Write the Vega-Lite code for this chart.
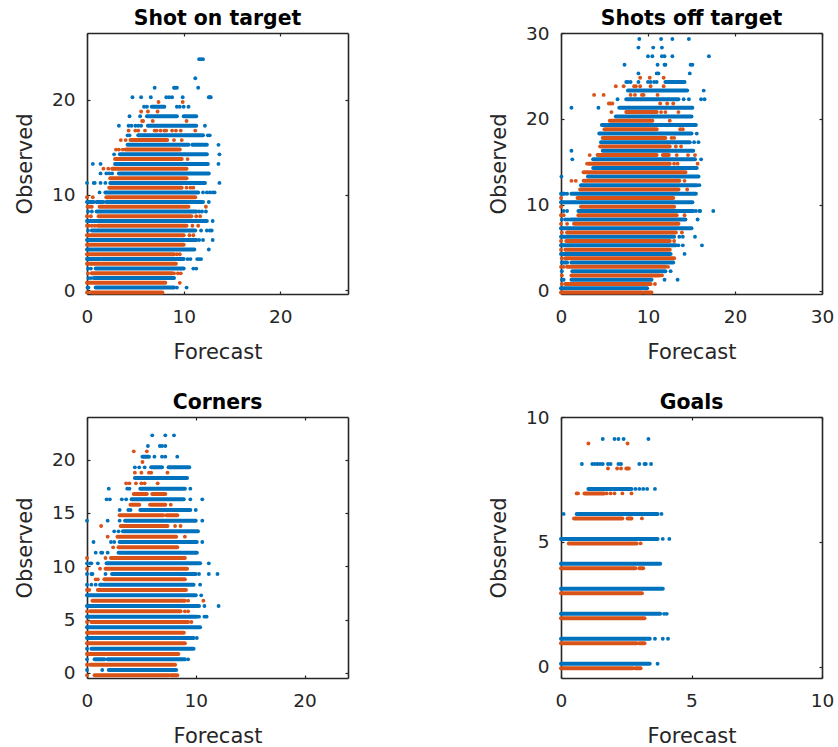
{"$schema":"https://vega.github.io/schema/vega-lite/v6.json","background":"white","padding":{"left":14,"top":8,"right":16,"bottom":0},"bounds":"flush","columns":2,"spacing":{"row":123,"column":213},
"config":{"view":{"stroke":null},"font":"DejaVu Sans","title":{"fontSize":20.4,"fontWeight":"bold","color":"#000000","frame":"group","font":"DejaVu Sans"},"axis":{"grid":false,"labelFont":"DejaVu Sans","titleFont":"DejaVu Sans","labelFontSize":18.5,"titleFontSize":21,"titleFontWeight":"normal","labelColor":"#262626","titleColor":"#262626","domainColor":"#262626","tickColor":"#262626","domainWidth":1.6,"tickWidth":1.2,"tickSize":-3,"labelFlush":false,"labelOverlap":false},"axisX":{"labelPadding":16,"titlePadding":16},"axisY":{"labelPadding":15,"titlePadding":16}},
"datasets":{
"p1":[
{"s":"b","o":0.25,"x":0.9,"e":9},{"s":"b","o":0.25,"x":0.05},{"s":"b","o":0.25,"x":0.15},{"s":"b","o":0.25,"x":9.3},{"s":"b","o":0.25,"x":10.3},
{"s":"b","o":1.25,"x":0.7,"e":9},{"s":"b","o":1.25,"x":0.15},{"s":"b","o":1.25,"x":0.4},
{"s":"b","o":2.25,"x":0.9,"e":10},{"s":"b","o":2.25,"x":0.1},{"s":"b","o":2.25,"x":0.4},{"s":"b","o":2.25,"x":11},{"s":"b","o":2.25,"x":11.3},
{"s":"b","o":3.25,"x":0,"e":1.4},{"s":"b","o":3.25,"x":1.6,"e":10},{"s":"b","o":3.25,"x":10.4},{"s":"b","o":3.25,"x":10.7},{"s":"b","o":3.25,"x":11.4},{"s":"b","o":3.25,"x":11.6},{"s":"b","o":3.25,"x":11.8},
{"s":"b","o":4.25,"x":0,"e":11.1},{"s":"b","o":4.25,"x":12.6},
{"s":"b","o":5.25,"x":0,"e":11.3},{"s":"b","o":5.25,"x":11.6},{"s":"b","o":5.25,"x":12},{"s":"b","o":5.25,"x":13},
{"s":"b","o":6.25,"x":0.5,"e":11.2},{"s":"b","o":6.25,"x":0.1},{"s":"b","o":6.25,"x":11.8},{"s":"b","o":6.25,"x":12.4},{"s":"b","o":6.25,"x":12.7},{"s":"b","o":6.25,"x":12.9},
{"s":"b","o":7.25,"x":0,"e":12.4},{"s":"b","o":7.25,"x":13},
{"s":"b","o":8.25,"x":1,"e":11.3},{"s":"b","o":8.25,"x":0.1},{"s":"b","o":8.25,"x":0.5},{"s":"b","o":8.25,"x":11.6},{"s":"b","o":8.25,"x":11.9},{"s":"b","o":8.25,"x":12.3},
{"s":"b","o":9.25,"x":0,"e":0.7},{"s":"b","o":9.25,"x":1,"e":1.7},{"s":"b","o":9.25,"x":2,"e":12},{"s":"b","o":9.25,"x":12.6},
{"s":"b","o":10.25,"x":1.9,"e":11.5},{"s":"b","o":10.25,"x":1.3},{"s":"b","o":10.25,"x":12},{"s":"b","o":10.25,"x":12.4},{"s":"b","o":10.25,"x":12.7},{"s":"b","o":10.25,"x":13},{"s":"b","o":10.25,"x":13.2},
{"s":"b","o":11.25,"x":2.4,"e":12.2},{"s":"b","o":11.25,"x":0},{"s":"b","o":11.25,"x":0.7},{"s":"b","o":11.25,"x":0.8},{"s":"b","o":11.25,"x":1.4},{"s":"b","o":11.25,"x":1.9},{"s":"b","o":11.25,"x":13.7},
{"s":"b","o":12.25,"x":3.3,"e":12.6},{"s":"b","o":12.25,"x":1.4},{"s":"b","o":12.25,"x":2},{"s":"b","o":12.25,"x":2.3},{"s":"b","o":12.25,"x":2.6},
{"s":"b","o":13.25,"x":2.9,"e":12.5},{"s":"b","o":13.25,"x":0.6},{"s":"b","o":13.25,"x":1.4},{"s":"b","o":13.25,"x":13.6},
{"s":"b","o":14.25,"x":3.4,"e":12.4},{"s":"b","o":14.25,"x":2.8},{"s":"b","o":14.25,"x":13.7},
{"s":"b","o":15.25,"x":4.2,"e":10.5},{"s":"b","o":15.25,"x":10.9,"e":12.4},{"s":"b","o":15.25,"x":13.6},
{"s":"b","o":16.25,"x":5.3,"e":12},{"s":"b","o":16.25,"x":4.2},{"s":"b","o":16.25,"x":4.4},{"s":"b","o":16.25,"x":12.5},{"s":"b","o":16.25,"x":12.7},
{"s":"b","o":17.25,"x":6.3,"e":11.3},{"s":"b","o":17.25,"x":3.3},{"s":"b","o":17.25,"x":4.3},{"s":"b","o":17.25,"x":4.6},{"s":"b","o":17.25,"x":5},{"s":"b","o":17.25,"x":5.3},{"s":"b","o":17.25,"x":5.6},{"s":"b","o":17.25,"x":12.2},
{"s":"b","o":18.25,"x":6.2,"e":9.3},{"s":"b","o":18.25,"x":10,"e":11.3},{"s":"b","o":18.25,"x":4.4},{"s":"b","o":18.25,"x":5.5},
{"s":"b","o":19.25,"x":6.7,"e":8},{"s":"b","o":19.25,"x":5.9},{"s":"b","o":19.25,"x":6.2},{"s":"b","o":19.25,"x":9.3},{"s":"b","o":19.25,"x":9.6},{"s":"b","o":19.25,"x":10},{"s":"b","o":19.25,"x":10.5},
{"s":"b","o":20.25,"x":4.7},{"s":"b","o":20.25,"x":5.6},{"s":"b","o":20.25,"x":6.6},{"s":"b","o":20.25,"x":8.2},{"s":"b","o":20.25,"x":8.5},{"s":"b","o":20.25,"x":8.8},{"s":"b","o":20.25,"x":9.9},{"s":"b","o":20.25,"x":12.6},{"s":"b","o":20.25,"x":12.7},{"s":"b","o":20.25,"x":12.8},
{"s":"b","o":21.25,"x":7},{"s":"b","o":21.25,"x":9},{"s":"b","o":21.25,"x":9.1},{"s":"b","o":21.25,"x":9.3},{"s":"b","o":21.25,"x":11.5},
{"s":"b","o":22.25,"x":11.2},
{"s":"b","o":24.25,"x":11.6},{"s":"b","o":24.25,"x":11.8},{"s":"b","o":24.25,"x":12},
{"s":"r","o":-0.25,"x":0.5,"e":7.8},{"s":"r","o":-0.25,"x":0},{"s":"r","o":-0.25,"x":0.1},
{"s":"r","o":0.75,"x":0,"e":8.1},{"s":"r","o":0.75,"x":9.6},
{"s":"r","o":1.75,"x":0.5,"e":8.8},{"s":"r","o":1.75,"x":0.1},{"s":"r","o":1.75,"x":9},{"s":"r","o":1.75,"x":9.4},{"s":"r","o":1.75,"x":9.7},
{"s":"r","o":2.75,"x":0,"e":9.2},
{"s":"r","o":3.75,"x":0,"e":9},{"s":"r","o":3.75,"x":9.3},{"s":"r","o":3.75,"x":9.6},
{"s":"r","o":4.75,"x":0,"e":10},
{"s":"r","o":5.75,"x":0,"e":10},{"s":"r","o":5.75,"x":10.6},{"s":"r","o":5.75,"x":11},
{"s":"r","o":6.75,"x":1.1,"e":10.3},{"s":"r","o":6.75,"x":0},{"s":"r","o":6.75,"x":0.2},{"s":"r","o":6.75,"x":0.5},{"s":"r","o":6.75,"x":0.8},{"s":"r","o":6.75,"x":10.9},{"s":"r","o":6.75,"x":11.5},
{"s":"r","o":7.75,"x":1.2,"e":10.8},{"s":"r","o":7.75,"x":0},{"s":"r","o":7.75,"x":0.4},{"s":"r","o":7.75,"x":11.3},{"s":"r","o":7.75,"x":11.7},
{"s":"r","o":8.75,"x":1.3,"e":10.5},{"s":"r","o":8.75,"x":0.05},{"s":"r","o":8.75,"x":0.3},{"s":"r","o":8.75,"x":0.5},{"s":"r","o":8.75,"x":12.3},
{"s":"r","o":9.75,"x":2,"e":11.2},{"s":"r","o":9.75,"x":0},{"s":"r","o":9.75,"x":0.6},
{"s":"r","o":10.75,"x":2.3,"e":9.8},{"s":"r","o":10.75,"x":10.3},{"s":"r","o":10.75,"x":10.7},{"s":"r","o":10.75,"x":11},
{"s":"r","o":11.75,"x":2.4,"e":10.3},
{"s":"r","o":12.75,"x":2.6,"e":10.3},{"s":"r","o":12.75,"x":1.7},{"s":"r","o":12.75,"x":2.2},
{"s":"r","o":13.75,"x":2.9,"e":9.8},{"s":"r","o":13.75,"x":10.4},
{"s":"r","o":14.75,"x":4,"e":9.6},{"s":"r","o":14.75,"x":3},{"s":"r","o":14.75,"x":3.3},{"s":"r","o":14.75,"x":3.7},
{"s":"r","o":15.75,"x":4.5,"e":8.3},{"s":"r","o":15.75,"x":3.5},{"s":"r","o":15.75,"x":4},{"s":"r","o":15.75,"x":9},{"s":"r","o":15.75,"x":9.8},
{"s":"r","o":16.75,"x":4.3},{"s":"r","o":16.75,"x":5},{"s":"r","o":16.75,"x":5.3},{"s":"r","o":16.75,"x":6},{"s":"r","o":16.75,"x":7},{"s":"r","o":16.75,"x":7.2},{"s":"r","o":16.75,"x":7.6},{"s":"r","o":16.75,"x":8},{"s":"r","o":16.75,"x":8.2},{"s":"r","o":16.75,"x":8.8},{"s":"r","o":16.75,"x":9.2},{"s":"r","o":16.75,"x":9.7},{"s":"r","o":16.75,"x":11.2},
{"s":"r","o":17.75,"x":5.7},{"s":"r","o":17.75,"x":5.8},{"s":"r","o":17.75,"x":6.8},{"s":"r","o":17.75,"x":10.3},
{"s":"r","o":18.75,"x":5.6},{"s":"r","o":18.75,"x":6.3},{"s":"r","o":18.75,"x":7.3},
{"s":"r","o":19.75,"x":7.4},{"s":"r","o":19.75,"x":9.9}
],
"p2":[
{"s":"b","o":0.3,"x":0,"e":9.9},
{"s":"b","o":1.3,"x":1.2,"e":10.4},{"s":"b","o":1.3,"x":0.1},{"s":"b","o":1.3,"x":0.3},{"s":"b","o":1.3,"x":11.9},{"s":"b","o":1.3,"x":13.4},
{"s":"b","o":2.3,"x":1.3,"e":12},{"s":"b","o":2.3,"x":0.1},{"s":"b","o":2.3,"x":12.6},
{"s":"b","o":3.3,"x":0.1,"e":0.7},{"s":"b","o":3.3,"x":1.2,"e":12.9},
{"s":"b","o":4.3,"x":0,"e":12.6},{"s":"b","o":4.3,"x":14.2},
{"s":"b","o":5.3,"x":0,"e":13.2},{"s":"b","o":5.3,"x":13.5},{"s":"b","o":5.3,"x":14},{"s":"b","o":5.3,"x":16.2},
{"s":"b","o":6.3,"x":0,"e":13},{"s":"b","o":6.3,"x":13.6},{"s":"b","o":6.3,"x":14},{"s":"b","o":6.3,"x":15.4},
{"s":"b","o":7.3,"x":0,"e":15},
{"s":"b","o":8.3,"x":1.3,"e":14.3},{"s":"b","o":8.3,"x":0.1},{"s":"b","o":8.3,"x":0.5},{"s":"b","o":8.3,"x":0.8},{"s":"b","o":8.3,"x":1.1},{"s":"b","o":8.3,"x":15.7},
{"s":"b","o":9.3,"x":2,"e":15.2},{"s":"b","o":9.3,"x":0.3},{"s":"b","o":9.3,"x":0.7},{"s":"b","o":9.3,"x":15.5},{"s":"b","o":9.3,"x":15.9},{"s":"b","o":9.3,"x":16},{"s":"b","o":9.3,"x":17.5},
{"s":"b","o":10.3,"x":0,"e":1.5},{"s":"b","o":10.3,"x":1.6,"e":15.1},
{"s":"b","o":11.3,"x":0,"e":0.4},{"s":"b","o":11.3,"x":1.2,"e":15.5},{"s":"b","o":11.3,"x":0.7},
{"s":"b","o":12.3,"x":2.3,"e":15.6},{"s":"b","o":12.3,"x":15.9},
{"s":"b","o":13.3,"x":3.1,"e":15.8},{"s":"b","o":13.3,"x":0.05},
{"s":"b","o":14.3,"x":3.7,"e":15.6},
{"s":"b","o":15.3,"x":3.7,"e":15.4},{"s":"b","o":15.3,"x":1.3},{"s":"b","o":15.3,"x":16.1},
{"s":"b","o":16.3,"x":4.8,"e":15.2},{"s":"b","o":16.3,"x":1.2},
{"s":"b","o":17.3,"x":4.6,"e":14.8},{"s":"b","o":17.3,"x":15.3},{"s":"b","o":17.3,"x":15.8},
{"s":"b","o":18.3,"x":4.4,"e":15},{"s":"b","o":18.3,"x":15.6},
{"s":"b","o":19.3,"x":4.7,"e":15.5},
{"s":"b","o":20.3,"x":6.3,"e":15},
{"s":"b","o":21.3,"x":6.7,"e":15.1},{"s":"b","o":21.3,"x":1.2},{"s":"b","o":21.3,"x":4.3},
{"s":"b","o":22.3,"x":7.5,"e":13.5},{"s":"b","o":22.3,"x":6.5},{"s":"b","o":22.3,"x":14.1},{"s":"b","o":22.3,"x":14.7},{"s":"b","o":22.3,"x":16.1},{"s":"b","o":22.3,"x":16.5},
{"s":"b","o":23.3,"x":7.7,"e":14.5},{"s":"b","o":23.3,"x":16.4},
{"s":"b","o":24.3,"x":7.5},{"s":"b","o":24.3,"x":7.7},{"s":"b","o":24.3,"x":8},{"s":"b","o":24.3,"x":8.9},{"s":"b","o":24.3,"x":10},{"s":"b","o":24.3,"x":10.3},{"s":"b","o":24.3,"x":10.7},{"s":"b","o":24.3,"x":11},{"s":"b","o":24.3,"x":12,"e":14.2},
{"s":"b","o":25.3,"x":8.9},{"s":"b","o":25.3,"x":11},{"s":"b","o":25.3,"x":11.2},{"s":"b","o":25.3,"x":14.8},
{"s":"b","o":26.3,"x":7.3},{"s":"b","o":26.3,"x":11.1},{"s":"b","o":26.3,"x":11.9},{"s":"b","o":26.3,"x":12},{"s":"b","o":26.3,"x":14.9},{"s":"b","o":26.3,"x":15.1},
{"s":"b","o":27.3,"x":10},{"s":"b","o":27.3,"x":10.5},{"s":"b","o":27.3,"x":11.6},{"s":"b","o":27.3,"x":11.9},{"s":"b","o":27.3,"x":12.8},{"s":"b","o":27.3,"x":17},
{"s":"b","o":28.3,"x":8.9},{"s":"b","o":28.3,"x":10.6},{"s":"b","o":28.3,"x":11.6},
{"s":"b","o":29.3,"x":9},{"s":"b","o":29.3,"x":11.5},{"s":"b","o":29.3,"x":12.8},{"s":"b","o":29.3,"x":14.7},
{"s":"r","o":-0.2,"x":0,"e":9.3},{"s":"r","o":-0.2,"x":9.6,"e":10.4},
{"s":"r","o":0.8,"x":0.5,"e":10.3},{"s":"r","o":0.8,"x":0.1},{"s":"r","o":0.8,"x":10.8},
{"s":"r","o":1.8,"x":1.2,"e":11.3},{"s":"r","o":1.8,"x":0.1},{"s":"r","o":1.8,"x":11.6},
{"s":"r","o":2.8,"x":0.7,"e":12},{"s":"r","o":2.8,"x":0},{"s":"r","o":2.8,"x":0.3},{"s":"r","o":2.8,"x":12.3},
{"s":"r","o":3.8,"x":0.5,"e":13},{"s":"r","o":3.8,"x":0.1},
{"s":"r","o":4.8,"x":0.5,"e":12.5},{"s":"r","o":4.8,"x":0},
{"s":"r","o":5.8,"x":0.6,"e":12.5},{"s":"r","o":5.8,"x":0},{"s":"r","o":5.8,"x":13},
{"s":"r","o":6.8,"x":0.7,"e":13.2},{"s":"r","o":6.8,"x":0.1},{"s":"r","o":6.8,"x":13.9},
{"s":"r","o":7.8,"x":1.5,"e":13.5},{"s":"r","o":7.8,"x":0},{"s":"r","o":7.8,"x":0.7},
{"s":"r","o":8.8,"x":2,"e":13.3},{"s":"r","o":8.8,"x":0},{"s":"r","o":8.8,"x":0.3},{"s":"r","o":8.8,"x":14.2},
{"s":"r","o":9.8,"x":2.3,"e":13},{"s":"r","o":9.8,"x":0},
{"s":"r","o":10.8,"x":1.9,"e":12.9},{"s":"r","o":10.8,"x":0},
{"s":"r","o":11.8,"x":2.2,"e":13.5},{"s":"r","o":11.8,"x":14.5},
{"s":"r","o":12.8,"x":2.6,"e":13.6},{"s":"r","o":12.8,"x":1.2},{"s":"r","o":12.8,"x":1.7},{"s":"r","o":12.8,"x":14.2},
{"s":"r","o":13.8,"x":2.6,"e":14.3},
{"s":"r","o":14.8,"x":3.2,"e":12.5},{"s":"r","o":14.8,"x":13},{"s":"r","o":14.8,"x":13.4},{"s":"r","o":14.8,"x":15.7},{"s":"r","o":14.8,"x":3},
{"s":"r","o":15.8,"x":4.2,"e":11},{"s":"r","o":15.8,"x":11.7,"e":12.4},{"s":"r","o":15.8,"x":3.3},{"s":"r","o":15.8,"x":13.3},{"s":"r","o":15.8,"x":14.6},{"s":"r","o":15.8,"x":15.4},
{"s":"r","o":16.8,"x":4.5,"e":12.5},{"s":"r","o":16.8,"x":13.2},{"s":"r","o":16.8,"x":13.8},
{"s":"r","o":17.8,"x":4.8,"e":12},{"s":"r","o":17.8,"x":12.7},{"s":"r","o":17.8,"x":13},
{"s":"r","o":18.8,"x":5,"e":11},{"s":"r","o":18.8,"x":13.7},{"s":"r","o":18.8,"x":14},
{"s":"r","o":19.8,"x":5.6,"e":10.5},{"s":"r","o":19.8,"x":12.5},
{"s":"r","o":20.8,"x":7.5,"e":11},{"s":"r","o":20.8,"x":5.8},{"s":"r","o":20.8,"x":11.5},{"s":"r","o":20.8,"x":12},{"s":"r","o":20.8,"x":13.5},
{"s":"r","o":21.8,"x":5.5},{"s":"r","o":21.8,"x":5.7},{"s":"r","o":21.8,"x":5.9},{"s":"r","o":21.8,"x":11.4},{"s":"r","o":21.8,"x":12.2},{"s":"r","o":21.8,"x":12.9},
{"s":"r","o":22.8,"x":3.8},{"s":"r","o":22.8,"x":4.9},{"s":"r","o":22.8,"x":8},{"s":"r","o":22.8,"x":8.5},{"s":"r","o":22.8,"x":9.3},{"s":"r","o":22.8,"x":9.5},{"s":"r","o":22.8,"x":11.1},
{"s":"r","o":23.8,"x":6.3},{"s":"r","o":23.8,"x":7.2},{"s":"r","o":23.8,"x":8.4},{"s":"r","o":23.8,"x":8.6},{"s":"r","o":23.8,"x":9.1},{"s":"r","o":23.8,"x":10.3},{"s":"r","o":23.8,"x":11.8},
{"s":"r","o":24.8,"x":9.1},{"s":"r","o":24.8,"x":10.2},{"s":"r","o":24.8,"x":11.8}
],
"p3":[
{"s":"b","o":0.28,"x":2,"e":8.2},{"s":"b","o":0.28,"x":1.4},{"s":"b","o":0.28,"x":0},
{"s":"b","o":1.28,"x":1.9,"e":9},{"s":"b","o":1.28,"x":0},{"s":"b","o":1.28,"x":0.7,"e":1.6},{"s":"b","o":1.28,"x":9.3},
{"s":"b","o":2.28,"x":0.4,"e":9.8},{"s":"b","o":2.28,"x":0},
{"s":"b","o":3.28,"x":0,"e":9.8},{"s":"b","o":3.28,"x":10.1},
{"s":"b","o":4.28,"x":0,"e":10.4},
{"s":"b","o":5.28,"x":0,"e":10.1},{"s":"b","o":5.28,"x":10.3},{"s":"b","o":5.28,"x":10.8},{"s":"b","o":5.28,"x":11},
{"s":"b","o":6.28,"x":0,"e":10.3},{"s":"b","o":6.28,"x":10.8},{"s":"b","o":6.28,"x":12.1},
{"s":"b","o":7.28,"x":0,"e":10},{"s":"b","o":7.28,"x":10.5},
{"s":"b","o":8.28,"x":1.2,"e":9.8},{"s":"b","o":8.28,"x":0},{"s":"b","o":8.28,"x":0.4},{"s":"b","o":8.28,"x":0.8},{"s":"b","o":8.28,"x":10.4},
{"s":"b","o":9.28,"x":2.3,"e":10},{"s":"b","o":9.28,"x":0},{"s":"b","o":9.28,"x":0.4},{"s":"b","o":9.28,"x":0.5},{"s":"b","o":9.28,"x":1.7},{"s":"b","o":9.28,"x":10.3},{"s":"b","o":9.28,"x":11.2},{"s":"b","o":9.28,"x":12},
{"s":"b","o":10.28,"x":1.8,"e":10.4},{"s":"b","o":10.28,"x":0},{"s":"b","o":10.28,"x":0.3},{"s":"b","o":10.28,"x":0.4},{"s":"b","o":10.28,"x":1},{"s":"b","o":10.28,"x":11.2},
{"s":"b","o":11.28,"x":2.9,"e":10.1},{"s":"b","o":11.28,"x":0.8},{"s":"b","o":11.28,"x":1.3},{"s":"b","o":11.28,"x":1.4},{"s":"b","o":11.28,"x":1.9},
{"s":"b","o":12.28,"x":3,"e":10.1},{"s":"b","o":12.28,"x":0.6},{"s":"b","o":12.28,"x":2.2},{"s":"b","o":12.28,"x":2.5},{"s":"b","o":12.28,"x":10.6},
{"s":"b","o":13.28,"x":3.3,"e":10.2},{"s":"b","o":13.28,"x":2.5},{"s":"b","o":13.28,"x":2.9},
{"s":"b","o":14.28,"x":3.5,"e":10},{"s":"b","o":14.28,"x":1.9},{"s":"b","o":14.28,"x":3},{"s":"b","o":14.28,"x":10.6},{"s":"b","o":14.28,"x":0},
{"s":"b","o":15.28,"x":4.9,"e":9.5},{"s":"b","o":15.28,"x":3},{"s":"b","o":15.28,"x":3.8},{"s":"b","o":15.28,"x":4},{"s":"b","o":15.28,"x":10},
{"s":"b","o":16.28,"x":4.1,"e":8.9},{"s":"b","o":16.28,"x":1.8},{"s":"b","o":16.28,"x":2.1},{"s":"b","o":16.28,"x":3.2},{"s":"b","o":16.28,"x":3.6},{"s":"b","o":16.28,"x":9.5},{"s":"b","o":16.28,"x":10.6},
{"s":"b","o":17.28,"x":4.9,"e":9},{"s":"b","o":17.28,"x":2},{"s":"b","o":17.28,"x":3.7},{"s":"b","o":17.28,"x":3.9},{"s":"b","o":17.28,"x":9.5},
{"s":"b","o":18.28,"x":4.4,"e":9.2},
{"s":"b","o":19.28,"x":5.9,"e":6.9},{"s":"b","o":19.28,"x":7.5,"e":9.4},{"s":"b","o":19.28,"x":4.4},{"s":"b","o":19.28,"x":4.8},{"s":"b","o":19.28,"x":5.3},
{"s":"b","o":20.28,"x":5.1,"e":5.7},{"s":"b","o":20.28,"x":6.2},{"s":"b","o":20.28,"x":6.9},{"s":"b","o":20.28,"x":7.2},{"s":"b","o":20.28,"x":8.3},
{"s":"b","o":21.28,"x":5.6},{"s":"b","o":21.28,"x":6.7},{"s":"b","o":21.28,"x":6.9},{"s":"b","o":21.28,"x":7.2},
{"s":"b","o":22.28,"x":6},{"s":"b","o":22.28,"x":7.2},{"s":"b","o":22.28,"x":8},
{"s":"r","o":-0.22,"x":0.7,"e":7.5},{"s":"r","o":-0.22,"x":7.7,"e":8.3},{"s":"r","o":-0.22,"x":0},
{"s":"r","o":0.78,"x":0.3,"e":8.1},{"s":"r","o":0.78,"x":0},
{"s":"r","o":1.78,"x":0,"e":8.4},
{"s":"r","o":2.78,"x":0,"e":9},
{"s":"r","o":3.78,"x":0,"e":8.9},
{"s":"r","o":4.78,"x":0.4,"e":9.3},{"s":"r","o":4.78,"x":9.6},{"s":"r","o":4.78,"x":0},
{"s":"r","o":5.78,"x":0.3,"e":8.6},{"s":"r","o":5.78,"x":0},{"s":"r","o":5.78,"x":9},{"s":"r","o":5.78,"x":9.3},
{"s":"r","o":6.78,"x":0.5,"e":9},{"s":"r","o":6.78,"x":9.3},{"s":"r","o":6.78,"x":10.7},
{"s":"r","o":7.78,"x":1,"e":9.1},{"s":"r","o":7.78,"x":0},{"s":"r","o":7.78,"x":0.2},
{"s":"r","o":8.78,"x":1.6,"e":9},{"s":"r","o":8.78,"x":0.8},{"s":"r","o":8.78,"x":1},
{"s":"r","o":9.78,"x":1.7,"e":9.2},{"s":"r","o":9.78,"x":0},{"s":"r","o":9.78,"x":1.2},
{"s":"r","o":10.78,"x":2.2,"e":9},{"s":"r","o":10.78,"x":0},{"s":"r","o":10.78,"x":1.7},
{"s":"r","o":11.78,"x":2.9,"e":8.3},{"s":"r","o":11.78,"x":2.4},
{"s":"r","o":12.78,"x":2.8,"e":8.2},{"s":"r","o":12.78,"x":1.9},{"s":"r","o":12.78,"x":9},
{"s":"r","o":13.78,"x":3.1,"e":7.4},{"s":"r","o":13.78,"x":1.3},{"s":"r","o":13.78,"x":8.1},{"s":"r","o":13.78,"x":8.6},
{"s":"r","o":14.78,"x":3,"e":7},{"s":"r","o":14.78,"x":7.3,"e":8.3},
{"s":"r","o":15.78,"x":4,"e":4.8},{"s":"r","o":15.78,"x":5.8,"e":7.2},{"s":"r","o":15.78,"x":7.7},
{"s":"r","o":16.78,"x":4.3,"e":5.5},{"s":"r","o":16.78,"x":6,"e":7.2},
{"s":"r","o":17.78,"x":3.6},{"s":"r","o":17.78,"x":3.9},{"s":"r","o":17.78,"x":4.5},{"s":"r","o":17.78,"x":5},{"s":"r","o":17.78,"x":5.3},{"s":"r","o":17.78,"x":6.5},
{"s":"r","o":18.78,"x":4.4},{"s":"r","o":18.78,"x":5},{"s":"r","o":18.78,"x":5.7},{"s":"r","o":18.78,"x":5.9},{"s":"r","o":18.78,"x":7.4},
{"s":"r","o":19.78,"x":5.1},
{"s":"r","o":20.78,"x":4.3},{"s":"r","o":20.78,"x":5.5}
],
"p4":[
{"s":"b","o":0.12,"x":0,"e":3.4},{"s":"b","o":0.12,"x":3.7},
{"s":"b","o":1.12,"x":0,"e":3.4},{"s":"b","o":1.12,"x":3.6},{"s":"b","o":1.12,"x":3.9},{"s":"b","o":1.12,"x":4.1},
{"s":"b","o":2.12,"x":0,"e":3.8},{"s":"b","o":2.12,"x":3.95},{"s":"b","o":2.12,"x":4.05},
{"s":"b","o":3.12,"x":0,"e":3.9},
{"s":"b","o":4.12,"x":0,"e":3.8},
{"s":"b","o":5.12,"x":0,"e":3.7},{"s":"b","o":5.12,"x":3.9},{"s":"b","o":5.12,"x":4.15},
{"s":"b","o":6.12,"x":0.6,"e":3.7},{"s":"b","o":6.12,"x":0.1},{"s":"b","o":6.12,"x":3.85},
{"s":"b","o":7.12,"x":1.05,"e":2.7},{"s":"b","o":7.12,"x":2.85},{"s":"b","o":7.12,"x":3},{"s":"b","o":7.12,"x":3.15},{"s":"b","o":7.12,"x":3.3},{"s":"b","o":7.12,"x":3.6},
{"s":"b","o":8.12,"x":0.8},{"s":"b","o":8.12,"x":1.2},{"s":"b","o":8.12,"x":1.3},{"s":"b","o":8.12,"x":1.4},{"s":"b","o":8.12,"x":1.5},{"s":"b","o":8.12,"x":1.6},{"s":"b","o":8.12,"x":1.8},{"s":"b","o":8.12,"x":1.9},{"s":"b","o":8.12,"x":2.2},{"s":"b","o":8.12,"x":2.3},{"s":"b","o":8.12,"x":3},{"s":"b","o":8.12,"x":3.2},{"s":"b","o":8.12,"x":3.25},{"s":"b","o":8.12,"x":3.45},
{"s":"b","o":9.12,"x":1.6},{"s":"b","o":9.12,"x":2.05},{"s":"b","o":9.12,"x":2.2},{"s":"b","o":9.12,"x":2.4},{"s":"b","o":9.12,"x":3.35},
{"s":"r","o":-0.06,"x":0,"e":2.75},{"s":"r","o":-0.06,"x":2.85,"e":3.05},
{"s":"r","o":0.94,"x":0,"e":2.9},{"s":"r","o":0.94,"x":3,"e":3.2},
{"s":"r","o":1.94,"x":0,"e":3.2},
{"s":"r","o":2.94,"x":0,"e":3.1},
{"s":"r","o":3.94,"x":0,"e":2.85},{"s":"r","o":3.94,"x":3,"e":3.15},
{"s":"r","o":4.94,"x":0.3,"e":2.9},{"s":"r","o":4.94,"x":3.05},
{"s":"r","o":5.94,"x":0.5,"e":2.35},{"s":"r","o":5.94,"x":2.55,"e":2.7},{"s":"r","o":5.94,"x":3.1},
{"s":"r","o":6.94,"x":0.6},{"s":"r","o":6.94,"x":0.65},{"s":"r","o":6.94,"x":0.9,"e":1.65},{"s":"r","o":6.94,"x":1.75},{"s":"r","o":6.94,"x":1.9},{"s":"r","o":6.94,"x":2.05},{"s":"r","o":6.94,"x":2.35},{"s":"r","o":6.94,"x":2.7},
{"s":"r","o":7.94,"x":1.8},{"s":"r","o":7.94,"x":2.15},{"s":"r","o":7.94,"x":2.3},{"s":"r","o":7.94,"x":2.5},{"s":"r","o":7.94,"x":2.55},{"s":"r","o":7.94,"x":2.6},
{"s":"r","o":8.94,"x":1.05},{"s":"r","o":8.94,"x":2.55}
]},
"concat":[
{"title":{"text":"Shot on target","offset":3},"width":261,"height":261,"data":{"name":"p1"},
"layer":[
{"transform":[{"filter":"isValid(datum.e)"}],"mark":{"type":"rule","strokeWidth":4,"strokeCap":"round"},"encoding":{"x":{"field":"x","type":"quantitative","scale":{"domain":[0,27],"nice":false},"axis":{"values":[0,10,20],"title":"Forecast"}},"x2":{"field":"e"},"y":{"field":"o","type":"quantitative","scale":{"domain":[-0.42,27],"nice":false},"axis":{"values":[0,10,20],"title":"Observed"}},"color":{"field":"s","type":"nominal","legend":null,"scale":{"domain":["b","r"],"range":["#0072BD","#D95319"]}}}},
{"transform":[{"filter":"!isValid(datum.e)"}],"mark":{"type":"circle","size":15,"opacity":1},"encoding":{"x":{"field":"x","type":"quantitative","scale":{"domain":[0,27],"nice":false},"axis":{"orient":"top","values":[0,10,20],"title":null,"labels":false}},"y":{"field":"o","type":"quantitative","scale":{"domain":[-0.42,27],"nice":false},"axis":{"orient":"right","values":[0,10,20],"title":null,"labels":false}},"color":{"field":"s","type":"nominal","legend":null,"scale":{"domain":["b","r"],"range":["#0072BD","#D95319"]}}}}
],"resolve":{"axis":{"x":"independent","y":"independent"}}},
{"title":{"text":"Shots off target","offset":-5},"width":261,"height":261,"data":{"name":"p2"},
"layer":[
{"transform":[{"filter":"isValid(datum.e)"}],"mark":{"type":"rule","strokeWidth":4,"strokeCap":"round"},"encoding":{"x":{"field":"x","type":"quantitative","scale":{"domain":[0,30],"nice":false},"axis":{"values":[0,10,20,30],"title":"Forecast"}},"x2":{"field":"e"},"y":{"field":"o","type":"quantitative","scale":{"domain":[-0.36,30],"nice":false},"axis":{"values":[0,10,20,30],"title":"Observed"}},"color":{"field":"s","type":"nominal","legend":null,"scale":{"domain":["b","r"],"range":["#0072BD","#D95319"]}}}},
{"transform":[{"filter":"!isValid(datum.e)"}],"mark":{"type":"circle","size":15,"opacity":1},"encoding":{"x":{"field":"x","type":"quantitative","scale":{"domain":[0,30],"nice":false},"axis":{"orient":"top","values":[0,10,20,30],"title":null,"labels":false}},"y":{"field":"o","type":"quantitative","scale":{"domain":[-0.36,30],"nice":false},"axis":{"orient":"right","values":[0,10,20,30],"title":null,"labels":false}},"color":{"field":"s","type":"nominal","legend":null,"scale":{"domain":["b","r"],"range":["#0072BD","#D95319"]}}}}
],"resolve":{"axis":{"x":"independent","y":"independent"}}},
{"title":{"text":"Corners","offset":3},"width":261,"height":261,"data":{"name":"p3"},
"layer":[
{"transform":[{"filter":"isValid(datum.e)"}],"mark":{"type":"rule","strokeWidth":4,"strokeCap":"round"},"encoding":{"x":{"field":"x","type":"quantitative","scale":{"domain":[0,24],"nice":false},"axis":{"values":[0,10,20],"title":"Forecast"}},"x2":{"field":"e"},"y":{"field":"o","type":"quantitative","scale":{"domain":[-0.47,24],"nice":false},"axis":{"values":[0,5,10,15,20],"title":"Observed"}},"color":{"field":"s","type":"nominal","legend":null,"scale":{"domain":["b","r"],"range":["#0072BD","#D95319"]}}}},
{"transform":[{"filter":"!isValid(datum.e)"}],"mark":{"type":"circle","size":15,"opacity":1},"encoding":{"x":{"field":"x","type":"quantitative","scale":{"domain":[0,24],"nice":false},"axis":{"orient":"top","values":[0,10,20],"title":null,"labels":false}},"y":{"field":"o","type":"quantitative","scale":{"domain":[-0.47,24],"nice":false},"axis":{"orient":"right","values":[0,5,10,15,20],"title":null,"labels":false}},"color":{"field":"s","type":"nominal","legend":null,"scale":{"domain":["b","r"],"range":["#0072BD","#D95319"]}}}}
],"resolve":{"axis":{"x":"independent","y":"independent"}}},
{"title":{"text":"Goals","offset":-5},"width":261,"height":261,"data":{"name":"p4"},
"layer":[
{"transform":[{"filter":"isValid(datum.e)"}],"mark":{"type":"rule","strokeWidth":4,"strokeCap":"round"},"encoding":{"x":{"field":"x","type":"quantitative","scale":{"domain":[0,10],"nice":false},"axis":{"values":[0,5,10],"title":"Forecast"}},"x2":{"field":"e"},"y":{"field":"o","type":"quantitative","scale":{"domain":[-0.45,10],"nice":false},"axis":{"values":[0,5,10],"title":"Observed"}},"color":{"field":"s","type":"nominal","legend":null,"scale":{"domain":["b","r"],"range":["#0072BD","#D95319"]}}}},
{"transform":[{"filter":"!isValid(datum.e)"}],"mark":{"type":"circle","size":15,"opacity":1},"encoding":{"x":{"field":"x","type":"quantitative","scale":{"domain":[0,10],"nice":false},"axis":{"orient":"top","values":[0,5,10],"title":null,"labels":false}},"y":{"field":"o","type":"quantitative","scale":{"domain":[-0.45,10],"nice":false},"axis":{"orient":"right","values":[0,5,10],"title":null,"labels":false}},"color":{"field":"s","type":"nominal","legend":null,"scale":{"domain":["b","r"],"range":["#0072BD","#D95319"]}}}}
],"resolve":{"axis":{"x":"independent","y":"independent"}}}
]}
